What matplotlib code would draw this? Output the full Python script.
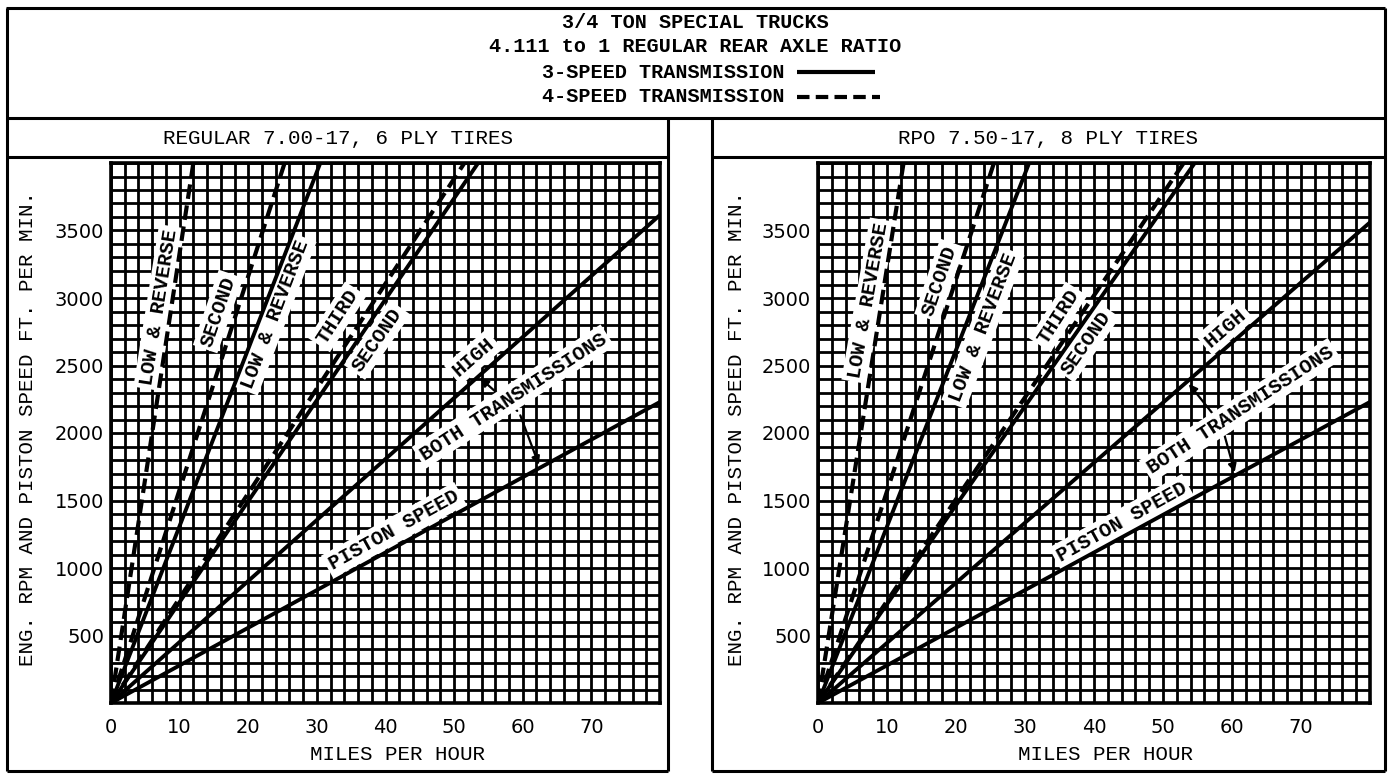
import numpy as np
import matplotlib
matplotlib.use("Agg")
import matplotlib.pyplot as plt

# chart ranges
mph_max = 80
rpm_max = 4000
x_ticks = [0, 10, 20, 30, 40, 50, 60, 70]
y_ticks = [500, 1000, 1500, 2000, 2500, 3000, 3500]

# every line starts at 0,0 and ends at the point below
# order: 4-spd low, 4-spd second, 3-spd low, 4-spd third, 3-spd second, high, piston speed
line_dashed = [True, True, False, True, False, False, False]

left_end_mph = [12.0, 25.3, 30.5, 51.5, 53.5, 80, 80]
left_end_rpm = [4000, 4000, 4000, 4000, 4000, 3615, 2230]

right_end_mph = [12.4, 25.5, 30.6, 53.0, 54.6, 80, 80]
right_end_rpm = [4000, 4000, 4000, 4000, 4000, 3560, 2230]

# labels on the lines: text, mph, rpm, angle
left_labels = [
    ("LOW & REVERSE", 7.0, 2930, 81),
    ("SECOND", 15.6, 2900, 71),
    ("LOW & REVERSE", 23.9, 2880, 69),
    ("THIRD", 33.0, 2860, 57),
    ("SECOND", 38.8, 2690, 55),
    ("HIGH", 52.8, 2560, 41),
    ("BOTH TRANSMISSIONS", 58.6, 2270, 33),
    ("PISTON SPEED", 41.2, 1280, 29),
]
right_labels = [
    ("LOW & REVERSE", 7.3, 2980, 80),
    ("SECOND", 17.6, 3130, 71),
    ("LOW & REVERSE", 23.9, 2780, 69),
    ("THIRD", 34.8, 2860, 57),
    ("SECOND", 38.9, 2670, 55),
    ("HIGH", 59.0, 2780, 41),
    ("BOTH TRANSMISSIONS", 61.2, 2170, 33),
    ("PISTON SPEED", 44.0, 1340, 29),
]

W, H = 1390, 774
fig = plt.figure(figsize=(W / 100, H / 100), dpi=100)

# background axes in pixel units for frames and header text
bg = fig.add_axes([0, 0, 1, 1])
bg.set_xlim(0, W)
bg.set_ylim(H, 0)
bg.axis("off")

mono = "Liberation Mono"
k = dict(color="black", lw=2.2, solid_capstyle="butt")
bg.plot([6, 1385], [8, 8], **k)
bg.plot([6, 1385], [118, 118], **k)
bg.plot([7, 7], [8, 771], **k)
bg.plot([1385, 1385], [8, 771], **k)
bg.plot([668, 668], [118, 771], **k)
bg.plot([712, 712], [118, 771], **k)
bg.plot([7, 668], [771, 771], **k)
bg.plot([712, 1385], [771, 771], **k)
bg.plot([7, 668], [157, 157], **k)
bg.plot([712, 1385], [157, 157], **k)

hdr = dict(family=mono, fontsize=14.5, fontweight="bold", ha="center", va="center")
bg.text(695, 22, "3/4 TON SPECIAL TRUCKS", **hdr)
bg.text(695, 47, "4.111 to 1 REGULAR REAR AXLE RATIO", **hdr)
bg.text(785, 72, "3-SPEED TRANSMISSION", **dict(hdr, ha="right"))
bg.text(785, 97, "4-SPEED TRANSMISSION", **dict(hdr, ha="right"))
bg.plot([797, 875], [72, 72], color="black", lw=3, solid_capstyle="butt")
bg.plot([797, 880], [97, 97], color="black", lw=3, ls=(0, (3, 1.5)))

ttl = dict(family=mono, fontsize=15, ha="center", va="center")
bg.text(338, 138, "REGULAR 7.00-17, 6 PLY TIRES", **ttl)
bg.text(1048, 138, "RPO 7.50-17, 8 PLY TIRES", **ttl)

lab = dict(family=mono, fontsize=15, ha="center", va="center")
bg.text(28, 428, "ENG. RPM AND PISTON SPEED FT. PER MIN.", rotation=90, **lab)
bg.text(736, 428, "ENG. RPM AND PISTON SPEED FT. PER MIN.", rotation=90, **lab)
bg.text(398, 755, "MILES PER HOUR", **lab)
bg.text(1106, 755, "MILES PER HOUR", **lab)


def draw_panel(ax, end_mph, end_rpm, labels, arrow_from, arrow_to):
    ax.set_xlim(0, mph_max)
    ax.set_ylim(0, rpm_max)
    ax.set_xticks(x_ticks)
    ax.set_yticks(y_ticks)
    ax.set_xticks(np.arange(0, mph_max + 1, 2), minor=True)
    ax.set_yticks(np.arange(0, rpm_max + 1, 100), minor=True)
    ax.set_axisbelow(True)
    ax.grid(which="both", color="black", lw=2.0)
    ax.tick_params(which="minor", length=0)
    ax.tick_params(which="major", length=0, labelsize=14)
    ax.tick_params(axis="x", pad=11)
    ax.tick_params(axis="y", pad=5)
    for s in ax.spines.values():
        s.set_linewidth(2.6)

    for m, r, d in zip(end_mph, end_rpm, line_dashed):
        if d:
            ax.plot([0, m], [0, r], color="black", lw=3.0, ls=(0, (3.5, 1.6)), zorder=4)
        else:
            ax.plot([0, m], [0, r], color="black", lw=2.8, solid_capstyle="butt", zorder=4)

    for txt, x, y, ang in labels:
        ax.text(x, y, txt, rotation=ang, rotation_mode="anchor", ha="center", va="center",
                family=mono, fontsize=14.5, fontweight="bold", zorder=3,
                bbox=dict(facecolor="white", edgecolor="none", pad=2.5))

    # leader arrows from the "BOTH TRANSMISSIONS" label, tucked under its white box
    for tgt in arrow_to:
        ax.annotate("", xy=tgt, xytext=arrow_from, zorder=2.5,
                    arrowprops=dict(arrowstyle="-|>", color="black", lw=1.6, mutation_scale=12))


ax1 = fig.add_axes([111 / W, (H - 703) / H, 549 / W, 540 / H])
draw_panel(ax1, left_end_mph, left_end_rpm, left_labels, (59.5, 2150), [(53.5, 2420), (62.5, 1745)])

ax2 = fig.add_axes([818 / W, (H - 703) / H, 552 / W, 540 / H])
draw_panel(ax2, right_end_mph, right_end_rpm, right_labels, (58.5, 2060), [(53.5, 2380), (60.5, 1690)])

fig.savefig("out.png", dpi=100)
